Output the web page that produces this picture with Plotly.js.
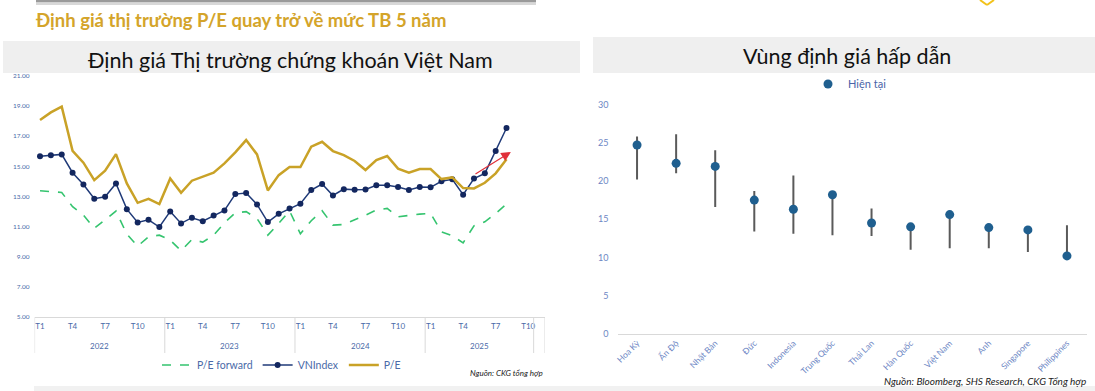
<!DOCTYPE html>
<html><head><meta charset="utf-8">
<script src="https://cdn.plot.ly/plotly-3.0.1.min.js"></script>
<style>html,body{margin:0;padding:0;background:#fff;}#chart{width:1095px;height:391px;}</style>
</head><body><div id="chart"></div>
<script>
// ---------- DATA: left chart ----------
const yearLabels = ['2022', '2023', '2024', '2025', ''];
const monthsPerYear = [12, 12, 12, 10, 1];
const monthTickEvery = 3; // T1, T4, T7, T10
const peForward = [13.37,13.33,13.26,12.31,11.75,10.87,11.42,12.02,10.49,9.69,10.31,10.42,
                   10.09,9.38,10.13,9.96,10.42,11.24,11.91,11.98,11.53,10.42,11.20,12.03,
                   10.51,11.38,12.04,11.09,11.13,11.42,11.75,12.09,12.20,11.64,11.75,11.82,
                   11.86,10.64,10.38,9.91,11.04,11.31,11.86,12.49];
const vnIndex = [15.66,15.74,15.79,14.57,13.79,12.84,12.97,13.86,12.15,11.27,11.44,10.96,
                 12.00,11.20,11.58,11.35,11.73,12.06,13.15,13.22,12.46,11.29,11.84,12.20,
                 12.51,13.42,13.82,13.06,13.48,13.44,13.46,13.73,13.73,13.62,13.42,13.62,
                 13.60,14.00,14.13,13.11,14.18,14.53,16.01,17.54];
const pe = [18.07,18.58,18.96,16.03,15.24,14.08,14.70,15.81,13.86,12.57,12.84,12.49,
            14.19,13.24,14.04,14.30,14.57,15.19,15.92,16.74,15.79,13.39,14.41,14.95,
            14.95,16.30,16.63,16.01,15.74,15.35,14.75,15.41,15.68,14.84,14.57,14.81,
            14.81,14.15,14.26,13.55,13.53,13.90,14.53,15.46];
const leftYTicks = [5, 7, 9, 11, 13, 15, 17, 19, 21];
const trendArrowFrom = [40, 14.42];  // [month index, value]
const trendArrowTo = [43.4, 15.95];

// ---------- DATA: right chart ----------
const countries = ['Hoa Kỳ','Ấn Độ','Nhật Bản','Đức','Indonesia','Trung Quốc','Thái Lan','Hàn Quốc','Việt Nam','Anh','Singapore','Philippines'];
const peCurrent = [24.7, 22.3, 21.9, 17.5, 16.3, 18.2, 14.5, 14.0, 15.6, 13.9, 13.6, 10.2];
const peLow     = [20.2, 21.0, 16.6, 13.4, 13.1, 12.9, 12.8, 11.0, 11.2, 11.2, 10.7, 10.2];
const peHigh    = [25.8, 26.1, 24.0, 18.7, 20.7, 18.2, 16.4, 14.0, 15.6, 13.9, 13.6, 14.2];
const rightYTicks = [0, 5, 10, 15, 20, 25, 30];

// ---------- helpers ----------
const W = 1095, H = 391;
const px = x => x / W;
const py = y => 1 - y / H;
const FONT = 'Lato, "Noto Sans", sans-serif';
const BLUE_TXT = '#4a6aa8';

// build month index + ticks from arrays
const monthIdx = [];
const tickVals = [], tickText = [];
const yearBounds = [-0.5];
const yearCenters = [];
let k = 0;
monthsPerYear.forEach((n, yi) => {
  const start = k;
  for (let m = 0; m < n; m++) {
    monthIdx.push(k);
    if (yearLabels[yi] !== '' && m % monthTickEvery === 0) { tickVals.push(k); tickText.push('T' + (m + 1)); }
    k++;
  }
  yearBounds.push(k - 0.5);
  yearCenters.push((start + k - 1) / 2);
});
const nCats = k;
const xs = arr => arr.map((_, i) => monthIdx[i]);

// high-low segments
const segX = [], segY = [];
countries.forEach((c, i) => { segX.push(c, c, null); segY.push(peLow[i], peHigh[i], null); });

const traces = [
  {x: xs(peForward), y: peForward, name: 'P/E forward', type: 'scatter', mode: 'lines',
   line: {color: '#35c46f', width: 1.6, dash: 'dash'}, xaxis: 'x', yaxis: 'y'},
  {x: xs(vnIndex), y: vnIndex, name: 'VNIndex', type: 'scatter', mode: 'lines+markers',
   line: {color: '#1f3a78', width: 1.5}, marker: {color: '#13275f', size: 6}, xaxis: 'x', yaxis: 'y'},
  {x: xs(pe), y: pe, name: 'P/E', type: 'scatter', mode: 'lines',
   line: {color: '#c9a227', width: 2.5}, xaxis: 'x', yaxis: 'y'},
  {x: segX, y: segY, type: 'scatter', mode: 'lines', showlegend: false, hoverinfo: 'skip',
   line: {color: '#5a5a5a', width: 2}, xaxis: 'x2', yaxis: 'y2'},
  {x: countries, y: peCurrent, name: 'Hiện tại', type: 'scatter', mode: 'markers', legend: 'legend2',
   marker: {color: '#1f5f8f', size: 9}, xaxis: 'x2', yaxis: 'y2'}
];

const shapes = [
  // top shadow bar & logo fragment
  {type: 'rect', xref: 'paper', yref: 'paper', x0: px(36), x1: px(536), y0: py(0), y1: py(2.5), fillcolor: '#9a9a9a', line: {width: 0}},
  {type: 'rect', xref: 'paper', yref: 'paper', x0: px(36), x1: px(536), y0: py(2.5), y1: py(5), fillcolor: '#d8d8d8', line: {width: 0}},
  {type: 'line', xref: 'paper', yref: 'paper', x0: px(980), x1: px(987), y0: py(0), y1: py(5), line: {color: '#f2c21b', width: 2}},
  {type: 'line', xref: 'paper', yref: 'paper', x0: px(987), x1: px(994), y0: py(5), y1: py(0), line: {color: '#f2c21b', width: 2}},
  // header bands
  {type: 'rect', layer: 'below', xref: 'paper', yref: 'paper', x0: px(3), x1: px(580), y0: py(73), y1: py(41), fillcolor: '#efefef', line: {width: 0}},
  {type: 'rect', layer: 'below', xref: 'paper', yref: 'paper', x0: px(593), x1: px(1095), y0: py(73), y1: py(37), fillcolor: '#efefef', line: {width: 0}},
  // bottom strip
  {type: 'rect', layer: 'below', xref: 'paper', yref: 'paper', x0: px(34), x1: px(1095), y0: py(391), y1: py(386), fillcolor: '#f1f1f1', line: {width: 0}}
];
yearBounds.forEach(b => shapes.push({type: 'line', xref: 'x', yref: 'paper', x0: b, x1: b, y0: py(317), y1: py(353), line: {color: '#d9d9d9', width: 1}}));

const annotations = [
  {xref: 'paper', yref: 'paper', x: px(33), y: py(19.5), xanchor: 'left', yanchor: 'middle', showarrow: false,
   text: '<b>Định giá thị trường P/E quay trở về mức TB 5 năm</b>', font: {family: FONT, size: 18.5, color: '#d4a42a'}},
  {xref: 'paper', yref: 'paper', x: px(290), y: py(60), xanchor: 'center', yanchor: 'middle', showarrow: false,
   text: 'Định giá Thị trường chứng khoán Việt Nam', font: {family: FONT, size: 21.5, color: '#111111'}},
  {xref: 'paper', yref: 'paper', x: px(847), y: py(56), xanchor: 'center', yanchor: 'middle', showarrow: false,
   text: 'Vùng định giá hấp dẫn', font: {family: FONT, size: 21.5, color: '#111111'}},
  {xref: 'paper', yref: 'paper', x: px(545), y: py(373), xanchor: 'right', yanchor: 'middle', showarrow: false,
   text: '<i>Nguồn: CKG tổng hợp</i>', font: {family: FONT, size: 8, color: '#222222'}},
  {xref: 'paper', yref: 'paper', x: px(1088), y: py(381), xanchor: 'right', yanchor: 'middle', showarrow: false,
   text: '<i>Nguồn: Bloomberg, SHS Research, CKG Tổng hợp</i>', font: {family: FONT, size: 10, color: '#222222'}},
  {xref: 'x', yref: 'y', axref: 'x', ayref: 'y', x: trendArrowTo[0], y: trendArrowTo[1], ax: trendArrowFrom[0], ay: trendArrowFrom[1],
   showarrow: true, arrowhead: 2, arrowsize: 1.6, arrowwidth: 1.2, arrowcolor: '#e0303a', text: ''}
];
yearLabels.forEach((y, i) => { if (y) annotations.push({xref: 'x', yref: 'paper', x: yearCenters[i], y: py(346), showarrow: false,
  text: y, font: {family: FONT, size: 8, color: BLUE_TXT}, xanchor: 'center', yanchor: 'middle'}); });

const layout = {
  width: W, height: H, autosize: false,
  margin: {l: 0, r: 0, t: 0, b: 0, pad: 0},
  paper_bgcolor: '#ffffff', plot_bgcolor: 'rgba(0,0,0,0)',
  font: {family: FONT, color: BLUE_TXT},
  showlegend: true,
  xaxis: {domain: [px(34.6), px(544.5)], range: [-0.5, nCats - 0.5], anchor: 'y',
    tickmode: 'array', tickvals: tickVals, ticktext: tickText, ticks: '', showgrid: false, zeroline: false,
    showline: true, linecolor: '#d9d9d9', linewidth: 1, tickfont: {size: 8, color: BLUE_TXT}, ticklabelstandoff: 2},
  yaxis: {domain: [py(316.7), py(76)], range: [5, 21], anchor: 'x', tickmode: 'array', tickvals: leftYTicks,
    tickformat: '.2f', ticks: '', showgrid: false, zeroline: false, showline: false,
    tickfont: {size: 6.5, color: BLUE_TXT}, ticklabelstandoff: 4},
  xaxis2: {domain: [px(617.5), px(1086.5)], range: [-0.5, countries.length - 0.5], anchor: 'y2', type: 'category',
    categoryarray: countries, ticks: '', showgrid: false, zeroline: false, showline: true, linecolor: '#d9d9d9',
    tickangle: -45, tickfont: {size: 8.5, color: '#6c86c4'}},
  yaxis2: {domain: [py(334), py(104.4)], range: [0, 30], anchor: 'x2', tickmode: 'array', tickvals: rightYTicks,
    ticks: '', showgrid: false, zeroline: false, showline: false, tickfont: {size: 9, color: '#6c86c4'}, ticklabelstandoff: 8},
  legend: {orientation: 'h', x: px(157), xanchor: 'left', y: py(365), yanchor: 'middle', bgcolor: 'rgba(0,0,0,0)',
    font: {size: 10.5, color: BLUE_TXT}, itemwidth: 30},
  legend2: {orientation: 'h', x: px(808), xanchor: 'left', y: py(84), yanchor: 'middle', bgcolor: 'rgba(0,0,0,0)',
    font: {size: 11, color: '#4a64a8'}},
  shapes: shapes,
  annotations: annotations
};

Plotly.newPlot('chart', traces, layout, {displayModeBar: false, staticPlot: true});
</script>
</body></html>
